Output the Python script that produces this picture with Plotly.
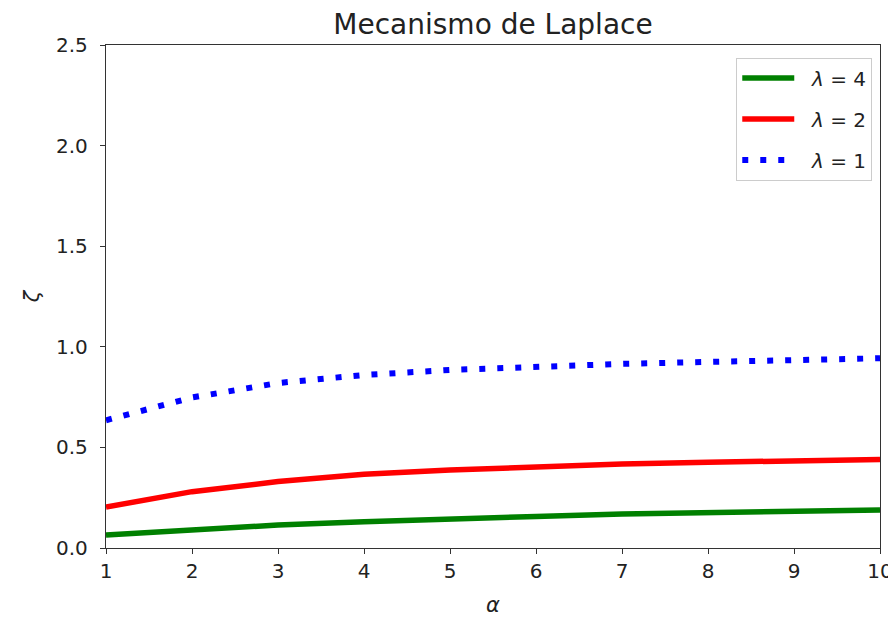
import plotly.graph_objects as go

alpha = [1, 2, 3, 4, 5, 6, 7, 8, 9, 10]
zeta_l4 = [0.065, 0.09, 0.114, 0.131, 0.147, 0.157, 0.169, 0.177, 0.184, 0.189]
zeta_l2 = [0.204, 0.28, 0.33, 0.366, 0.388, 0.404, 0.417, 0.426, 0.433, 0.44]
zeta_l1 = [0.635, 0.748, 0.82, 0.86, 0.885, 0.902, 0.915, 0.925, 0.935, 0.943]
y_ticks = [0, 0.5, 1.0, 1.5, 2.0, 2.5]

pad = "\u00a0\u00a0"
fig = go.Figure()
fig.add_trace(go.Scatter(x=alpha, y=zeta_l4, mode="lines", name=pad + "<i>λ</i> = 4", legendgroup="a",
                         line=dict(color="green", width=5.5)))
fig.add_trace(go.Scatter(x=alpha, y=zeta_l2, mode="lines", name=pad + "<i>λ</i> = 2", legendgroup="b",
                         line=dict(color="red", width=5.5)))
fig.add_trace(go.Scatter(x=alpha, y=zeta_l1, mode="lines", name=pad + "<i>λ</i> = 1", legendgroup="c",
                         line=dict(color="blue", width=6, dash="6px,12px")))

axis_common = dict(showline=True, linecolor="#333", linewidth=1.3, mirror=True,
                   ticks="outside", ticklen=5, tickcolor="#333", showgrid=False,
                   zeroline=False, automargin=False, tickfont=dict(size=20, color="#222"))

fig.update_layout(
    width=888, height=609,
    paper_bgcolor="white", plot_bgcolor="white",
    font=dict(family="DejaVu Sans", color="#222"),
    margin=dict(l=98, r=16, t=37, b=69),
    title=dict(text="Mecanismo de Laplace", x=(98 + 774 / 2) / 888,
               xanchor="center", y=1 - 16 / 609, yanchor="middle",
               font=dict(size=28, color="#222"), automargin=False),
    xaxis=dict(range=[1, 10], tickvals=alpha, ticktext=[str(a) for a in alpha],
               title=dict(text="<i>α</i>", font=dict(size=21), standoff=18), **axis_common),
    yaxis=dict(range=[0, 2.5], tickvals=y_ticks,
               ticktext=["%.1f" % v for v in y_ticks], ticklabelstandoff=8,
               title=dict(text="<i>ζ</i>", font=dict(size=21), standoff=10), **axis_common),
    legend=dict(x=0.99, y=0.975, xanchor="right", yanchor="top",
                bgcolor="white", bordercolor="#ccc", borderwidth=1, itemwidth=52,
                font=dict(size=20, color="#222"), tracegroupgap=12),
    showlegend=True,
)

fig.write_html("out.html")
